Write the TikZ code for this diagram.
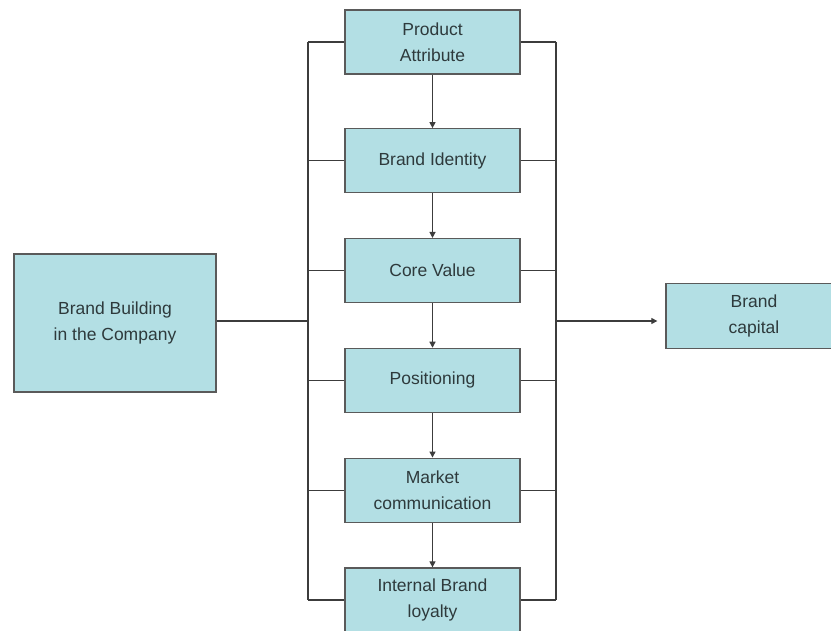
\documentclass[tikz,border=0pt]{standalone}
\usepackage{fontspec}
\setmainfont{Liberation Sans}
\usetikzlibrary{arrows.meta,positioning}
\definecolor{boxfill}{HTML}{B3DFE4}
\definecolor{boxline}{HTML}{5A5A5A}
\definecolor{linkgray}{HTML}{3C3C3C}
\definecolor{textgray}{HTML}{2E3A3C}

\tikzset{
  stage/.style={draw=boxline, line width=1.3pt, fill=boxfill, minimum width=175pt,
    minimum height=64pt, align=center, font=\fontsize{17.5}{26}\selectfont,
    text=textgray, inner sep=0pt},
  link/.style={draw=linkgray, line width=1.2pt},
  flow/.style={link, -{Triangle[length=6pt,width=6pt]}}
}

\begin{document}
\begin{tikzpicture}
  \path[use as bounding box] (0,0) rectangle (831pt,-631pt);
  \clip (0,0) rectangle (831pt,-631pt);
  % middle column
  \node[stage] (attr) at (432.5pt,-42pt) {Product\\Attribute};
  \node[stage, below=53.5pt of attr] (ident) {Brand Identity};
  \node[stage, below=44.5pt of ident] (core) {Core Value};
  \node[stage, below=44.5pt of core] (pos) {Positioning};
  \node[stage, below=44.5pt of pos] (comm) {Market\\communication};
  \node[stage, below=44.5pt of comm] (loyal) {Internal Brand\\loyalty};
  % sides
  \node[stage, minimum width=202pt, minimum height=138pt] (build) at (115pt,-323pt) {Brand Building\\in the Company};
  \node[stage, minimum width=176pt, minimum height=65pt] (capital) at (754pt,-316pt) {Brand\\capital};

  \coordinate (busL) at (308pt,-321pt);
  \coordinate (busR) at (556pt,-321pt);

  % buses
  \draw[link] (busL |- attr.west) -- (busL |- loyal.west);
  \draw[link] (busR |- attr.east) -- (busR |- loyal.east);
  \foreach \s in {attr,ident,core,pos,comm,loyal}{
    \draw[link] (busL |- \s.west) -- (\s.west);
    \draw[link] (\s.east) -- (busR |- \s.east);
  }
  \foreach \a/\b in {attr/ident,ident/core,core/pos,pos/comm,comm/loyal}
    \draw[flow] (\a) -- (\b);
  \draw[link] (build.east |- busL) -- (busL);
  \draw[flow] (busR) -- ([xshift=-8pt]capital.west |- busR);
\end{tikzpicture}
\end{document}
